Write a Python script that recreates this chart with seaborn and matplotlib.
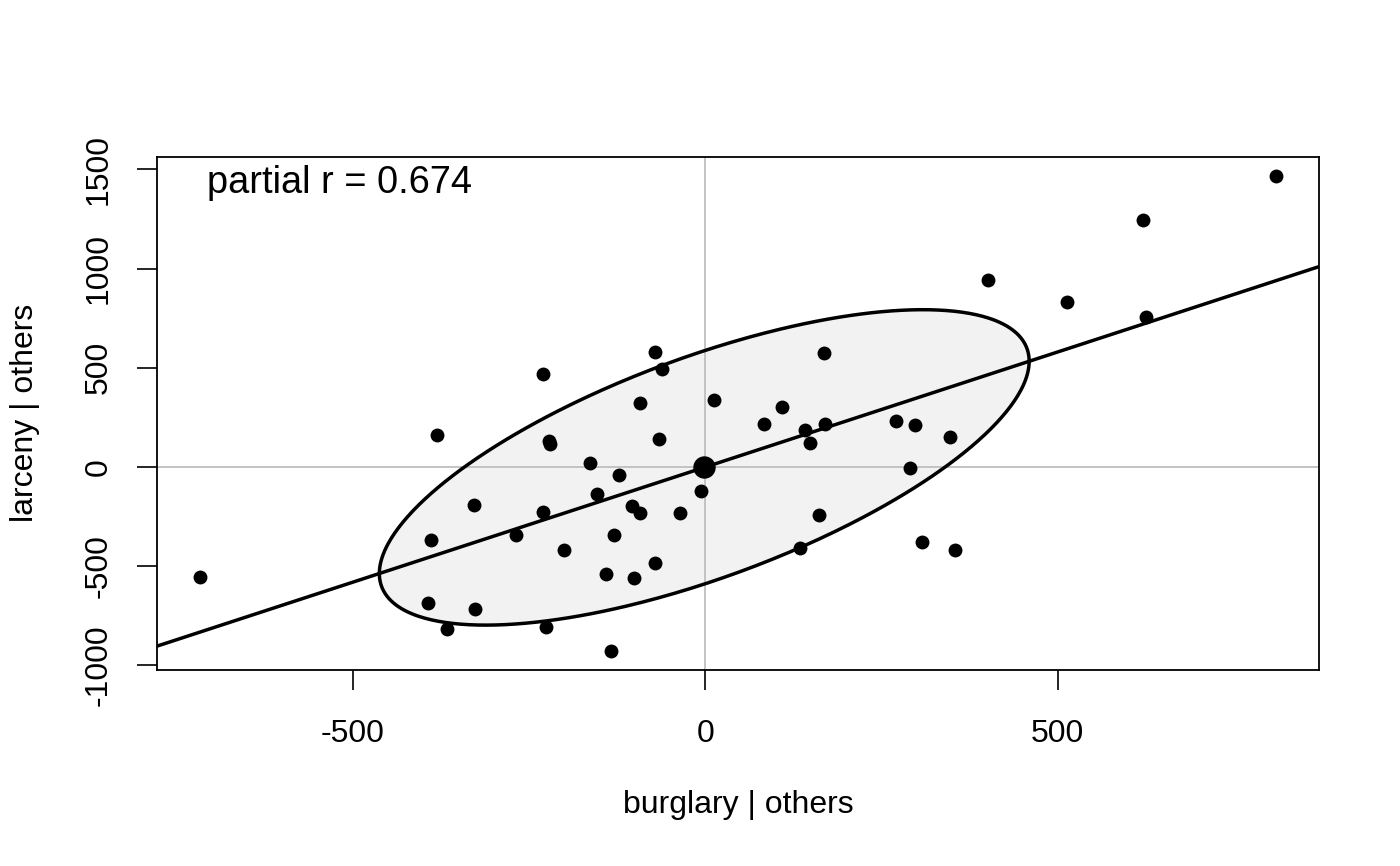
import numpy as np
import pandas as pd
import matplotlib
matplotlib.use("Agg")
import matplotlib.pyplot as plt
import seaborn as sns

# ---- data: partial residuals (added-variable plot) ----
burglary_resid = [-717, -381, -389, -393, -366, -328, -327, -268, -230, -222,
                  -221, -230, -226, -200, -163, -153, -141, -129, -134, -122,
                  -104, -101, -92, -92, -71, -72, -65, -61, -36, -6,
                  13, 84, 109, 141, 148, 134, 161, 168, 170, 271,
                  297, 291, 307, 347, 355, 402, 514, 622, 626, 810]
larceny_resid = [-554, 161, -368, -685, -817, -192, -716, -343, 469, 131,
                 114, -227, -806, -418, 20, -136, -539, -343, -927, -40,
                 -197, -559, -232, 323, 580, -484, 141, 494, -232, -121,
                 338, 217, 302, 186, 121, -408, -242, 575, 217, 232,
                 212, -5, -378, 151, -418, 943, 832, 1245, 756, 1467]
x_ticks = [-500, 0, 500]
y_ticks = [-1000, -500, 0, 500, 1000, 1500]
x_label = "burglary | others"
y_label = "larceny | others"
annotation = "partial r = 0.674"
ellipse_level = 0.68

df = pd.DataFrame({"burglary": burglary_resid, "larceny": larceny_resid})

sns.set_theme(style="white")
plt.rcParams["font.family"] = ["Liberation Sans", "DejaVu Sans"]

W, H = 1400, 866
fig = plt.figure(figsize=(W / 100, H / 100), dpi=100)
ax = fig.add_axes([157 / W, 1 - 669.5 / H, 1162 / W, 512.5 / H])

x = df["burglary"].to_numpy(float)
y = df["larceny"].to_numpy(float)
mx, my = x.mean(), y.mean()
n = len(x)

# data ellipse (level 0.68, F-based radius)
fq = (n - 1) / 2 * ((1 - ellipse_level) ** (-2 / (n - 1)) - 1)
radius = np.sqrt(2 * fq)
cov = np.cov(x, y)
L = np.linalg.cholesky(cov)
t = np.linspace(0, 2 * np.pi, 500)
ell = L @ np.vstack([np.cos(t), np.sin(t)]) * radius
ax.fill(ell[0] + mx, ell[1] + my, color="#F2F2F2", zorder=1, lw=0)
ax.plot(ell[0] + mx, ell[1] + my, color="black", lw=2.5, zorder=3)

# reference lines
ax.axhline(0, color="#BEBEBE", lw=1.3, zorder=2)
ax.axvline(0, color="#BEBEBE", lw=1.3, zorder=2)

# regression line through the centroid
slope = np.sum((x - mx) * (y - my)) / np.sum((x - mx) ** 2)
ax.axline((mx, my), slope=slope, color="black", lw=2.5, zorder=3)

# points
sns.scatterplot(data=df, x="burglary", y="larceny", ax=ax, color="black",
                s=100, linewidth=0, zorder=4)
ax.scatter([mx], [my], s=260, color="black", linewidth=0, zorder=5)

# limits like R (4% padding)
xr = x.max() - x.min()
yr = y.max() - y.min()
ax.set_xlim(x.min() - 0.04 * xr, x.max() + 0.04 * xr)
ax.set_ylim(y.min() - 0.04 * yr, y.max() + 0.04 * yr)

ax.set_xticks(x_ticks)
ax.set_xticklabels([str(v) for v in x_ticks])
ax.set_yticks(y_ticks)
ax.set_yticklabels([str(v) for v in y_ticks], rotation=90, va="center")
ax.tick_params(axis="both", which="major", bottom=True, left=True,
               direction="out", length=14.4, width=1.2, color="black",
               labelsize=23, labelcolor="black")
ax.tick_params(axis="x", pad=21)
ax.tick_params(axis="y", pad=17)

for sp in ax.spines.values():
    sp.set_visible(True)
    sp.set_color("black")
    sp.set_linewidth(1.3)

ax.set_xlabel(x_label, fontsize=23, color="black")
ax.set_ylabel(y_label, fontsize=23, color="black")
ax.xaxis.set_label_coords(0.5, -0.264)
ax.yaxis.set_label_coords(-0.1136, 0.5)
ax.xaxis.label.set_va("center")
ax.yaxis.label.set_va("center")

ax.text(0.043, 0.949, annotation, transform=ax.transAxes, ha="left",
        va="center", fontsize=27.4, color="black")

fig.savefig("out.png", dpi=100, facecolor="white")
